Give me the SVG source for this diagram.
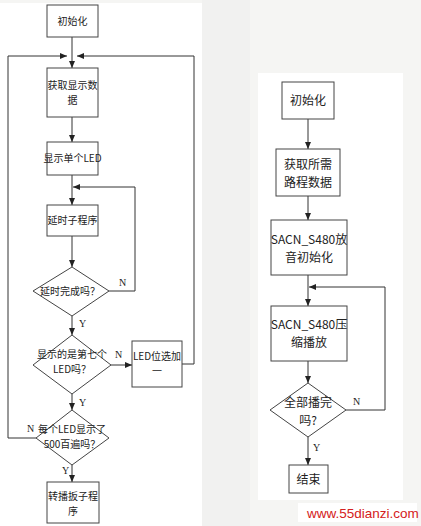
<svg xmlns="http://www.w3.org/2000/svg" width="421" height="526" viewBox="0 0 421 526">
<defs>
<style>
.box{fill:#fff;stroke:#444;stroke-width:1}
.ln{fill:none;stroke:#333;stroke-width:1;marker-end:url(#ah)}
.t{font-family:"Noto Sans CJK SC","Liberation Serif",sans-serif;fill:#222;text-anchor:middle}
.s{font-size:10px}
.m{font-size:12px}
.lb{font-family:"Liberation Serif",serif;font-size:10px;fill:#222}
</style>
<marker id="ah" markerWidth="7" markerHeight="6" refX="7" refY="3" orient="auto" markerUnits="userSpaceOnUse">
<path d="M0,0 L7,3 L0,6 Z" fill="#222"/>
</marker>
</defs>
<rect x="0" y="0" width="421" height="526" fill="#f5f5f3"/>
<rect x="202" y="0" width="48" height="526" fill="#f1f1f0"/>
<rect x="0" y="3" width="202" height="523" fill="#ffffff"/>
<rect x="258" y="73" width="145" height="427" fill="#ffffff"/>
<rect x="298" y="503" width="119" height="19" fill="#ffffff"/>

<g id="connectors">
<path class="ln" d="M72,37 V68"/>
<path class="ln" d="M36,438 H8 V56 H67"/>
<path class="ln" d="M182,364 H194 V56 H77"/>
<path class="ln" d="M72,117 V142"/>
<path class="ln" d="M72,175 V205"/>
<path class="ln" d="M72,236 V267"/>
<path class="ln" d="M109,291 H135 V187 H73"/>
<path class="ln" d="M72,316 V335"/>
<path class="ln" d="M111,365 H132"/>
<path class="ln" d="M72,394 V410"/>
<path class="ln" d="M72,465 V482"/>
<path class="ln" d="M308,119 V149"/>
<path class="ln" d="M308,196 V220"/>
<path class="ln" d="M308,275 V306"/>
<path class="ln" d="M346,410 H385 V287 H309"/>
<path class="ln" d="M308,361 V383"/>
<path class="ln" d="M308,437 V465"/>
<text class="lb" x="119" y="286">N</text>
<text class="lb" x="79" y="327">Y</text>
<text class="lb" x="115" y="358">N</text>
<text class="lb" x="79" y="406">Y</text>
<text class="lb" x="27" y="432">N</text>
<text class="lb" x="62" y="474">Y</text>
<text class="lb" x="353" y="405">N</text>
<text class="lb" x="313" y="451">Y</text>
</g>

<g id="n1"><rect class="box" x="47" y="5" width="51" height="32"/><text class="t s" x="72.5" y="25">初始化</text></g>
<g id="n2"><rect class="box" x="47" y="68" width="51" height="49"/><text class="t s" x="72.5" y="89">获取显示数</text><text class="t s" x="72.5" y="104">据</text></g>
<g id="n3"><rect class="box" x="47" y="142" width="51" height="33"/><text class="t s" x="72.5" y="162">显示单个LED</text></g>
<g id="n4"><rect class="box" x="47" y="205" width="51" height="31"/><text class="t s" x="72.5" y="224">延时子程序</text></g>
<g id="n5"><path class="box" d="M72,267 L109,291 L72,316 L33,291 Z"/><text class="t s" x="70" y="295">延时完成吗？</text></g>
<g id="n6"><path class="box" d="M72,335 L111,365 L72,394 L33,365 Z"/><text class="t s" x="72" y="358">显示的是第七个</text><text class="t s" x="72" y="373">LED吗？</text></g>
<g id="n7"><rect class="box" x="132" y="341" width="50" height="46"/><text class="t s" x="157" y="360">LED位选加</text><text class="t s" x="157" y="375">一</text></g>
<g id="n8"><path class="box" d="M72,410 L109,438 L72,465 L36,438 Z"/><text class="t s" x="72" y="433">每个LED显示了</text><text class="t s" x="72" y="448">500百遍吗？</text></g>
<g id="n9"><rect class="box" x="47" y="482" width="52" height="41"/><text class="t s" x="73" y="500">转播扳子程</text><text class="t s" x="73" y="515">序</text></g>

<g id="r1"><rect class="box" x="282" y="82" width="52" height="37"/><text class="t m" x="308" y="105">初始化</text></g>
<g id="r2"><rect class="box" x="276" y="149" width="64" height="47"/><text class="t m" x="308" y="169">获取所需</text><text class="t m" x="308" y="187">路程数据</text></g>
<g id="r3"><rect class="box" x="271" y="220" width="76" height="55"/><text class="t m" x="309" y="244">SACN_S480放</text><text class="t m" x="309" y="262">音初始化</text></g>
<g id="r4"><rect class="box" x="271" y="306" width="76" height="55"/><text class="t m" x="309" y="329">SACN_S480压</text><text class="t m" x="309" y="347">缩播放</text></g>
<g id="r5"><path class="box" d="M308,383 L346,410 L308,437 L270,410 Z"/><text class="t m" x="308" y="407">全部播完</text><text class="t m" x="308" y="425">吗?</text></g>
<g id="r6"><rect class="box" x="289" y="465" width="39" height="28"/><text class="t m" x="308.5" y="484">结束</text></g>

<text x="307" y="518" style="font-family:'Liberation Sans',Arial,sans-serif;font-size:13.5px;fill:#d42020">www.55dianzi.com</text>
</svg>
